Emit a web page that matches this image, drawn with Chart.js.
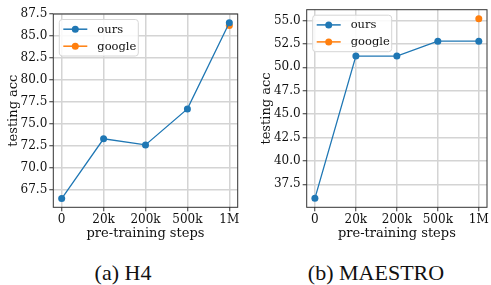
<!DOCTYPE html>
<html lang="en">
<head>
  <meta charset="UTF-8">
  <title>Pre-training steps vs testing acc</title>
  <style>
    body {
      margin: 0;
      background: #fff;
    }

    .wrap {
      position: relative;
      width: 491px;
      height: 285px;
      overflow: hidden;
    }

    canvas {
      position: absolute;
      top: 0;
    }

    .caption {
      position: absolute;
      top: 262px;
      font-family: "Liberation Serif", "Times New Roman", serif;
      font-size: 22px;
      line-height: 22px;
      color: #111;
      white-space: nowrap;
      transform: translateX(-50%);
    }
  </style>
  <script src="https://cdn.jsdelivr.net/npm/chart.js"></script>
</head>
<body>
  <div class="wrap">
    <canvas id="h4Chart" width="245" height="250" style="left:0"></canvas>
    <canvas id="maestroChart" width="246" height="250" style="left:245px"></canvas>
    <div class="caption" style="left:123px">(a) H4</div>
    <div class="caption" style="left:376px">(b) MAESTRO</div>
  </div>

  <script>
    // x categories shared by both panels
    const steps = ['0', '20k', '200k', '500k', '1M'];

    // H4 panel
    const h4Ours = [66.5, 73.3, 72.6, 76.7, 86.5];
    const h4Google = [null, null, null, null, 86.2];

    // MAESTRO panel
    const maestroOurs = [36.0, 51.2, 51.2, 52.8, 52.8];
    const maestroGoogle = [null, null, null, null, 55.2];

    const blue = '#1f77b4';
    const orange = '#ff7f0e';
    const serif = 'DejaVu Serif';

    // turn a value list into {x, y} points on the step index
    function toPoints(values) {
      return values.map((v, i) => ({ x: i, y: v })).filter(p => p.y !== null);
    }

    // box around the whole plot area, like matplotlib spines
    const framePlugin = {
      id: 'frame',
      afterDraw(chart) {
        const { ctx, chartArea: a } = chart;
        ctx.save();
        ctx.strokeStyle = '#333';
        ctx.lineWidth = 1;
        ctx.strokeRect(a.left, a.top, a.right - a.left, a.bottom - a.top);
        ctx.restore();
      }
    };

    // legend drawn inside the plot, upper left
    const innerLegend = {
      id: 'innerLegend',
      afterDraw(chart) {
        const { ctx, chartArea: a } = chart;
        const x = a.left + 6, y = a.top + 5.5, w = 79, h = 36.5, r = 3;
        ctx.save();
        ctx.beginPath();
        ctx.roundRect(x, y, w, h, r);
        ctx.fillStyle = 'rgba(255,255,255,0.85)';
        ctx.fill();
        ctx.strokeStyle = '#d6d6d6';
        ctx.lineWidth = 1;
        ctx.stroke();

        chart.data.datasets.forEach((ds, i) => {
          const cy = y + 9.7 + i * 17;
          ctx.strokeStyle = ds.borderColor;
          ctx.lineWidth = 1.5;
          ctx.beginPath();
          ctx.moveTo(x + 4, cy);
          ctx.lineTo(x + 28, cy);
          ctx.stroke();
          ctx.fillStyle = ds.backgroundColor;
          ctx.beginPath();
          ctx.arc(x + 16, cy, 3.5, 0, Math.PI * 2);
          ctx.fill();
          ctx.fillStyle = '#111';
          ctx.font = '11.5px "' + serif + '"';
          ctx.textBaseline = 'middle';
          ctx.fillText(ds.label, x + 38, cy + 0.5);
        });
        ctx.restore();
      }
    };

    function makeChart(id, ours, google, yMin, yMax, pad, yWidth, titleGap) {
      const ctx = document.getElementById(id).getContext('2d');
      return new Chart(ctx, {
        type: 'line',
        data: {
          datasets: [
            {
              label: 'ours',
              data: toPoints(ours),
              borderColor: blue,
              backgroundColor: blue,
              borderWidth: 1.3,
              pointRadius: 3.5,
              pointBorderWidth: 0,
              tension: 0
            },
            {
              label: 'google',
              data: toPoints(google),
              borderColor: orange,
              backgroundColor: orange,
              borderWidth: 1.3,
              pointRadius: 3.5,
              pointBorderWidth: 0,
              showLine: false
            }
          ]
        },
        options: {
          responsive: false,
          animation: false,
          devicePixelRatio: 1,
          layout: { padding: pad },
          plugins: {
            legend: { display: false },
            tooltip: { enabled: false }
          },
          scales: {
            x: {
              type: 'linear',
              min: -0.2,
              max: 4.2,
              afterBuildTicks: scale => {
                scale.ticks = steps.map((s, i) => ({ value: i }));
              },
              afterFit: scale => { scale.height = 250 - 207.3; },
              grid: { color: '#d4d4d4', lineWidth: 1.5, tickColor: '#333', tickLength: 4, tickWidth: 1 },
              border: { display: false },
              ticks: {
                padding: 1,
                color: '#111',
                font: { family: serif, size: 12 },
                callback: v => steps[v]
              },
              title: {
                display: true,
                text: 'pre-training steps',
                color: '#111',
                font: { family: serif, size: 13 },
                padding: { top: 0, bottom: 9 }
              }
            },
            y: {
              min: yMin,
              max: yMax,
              afterBuildTicks: scale => {
                const list = [];
                for (let v = Math.ceil(yMin / 2.5) * 2.5; v <= yMax + 1e-9; v += 2.5) list.push({ value: v });
                scale.ticks = list;
              },
              afterFit: scale => { scale.width = yWidth; },
              grid: { color: '#d4d4d4', lineWidth: 1.5, tickColor: '#333', tickLength: 4, tickWidth: 1 },
              border: { display: false },
              ticks: {
                padding: 2,
                color: '#111',
                font: { family: serif, size: 12 },
                callback: v => v.toFixed(1)
              },
              title: {
                display: true,
                text: 'testing acc',
                color: '#111',
                font: { family: serif, size: 13 },
                padding: { top: titleGap, bottom: 0 }
              }
            }
          }
        },
        plugins: [framePlugin, innerLegend]
      });
    }

    makeChart('h4Chart', h4Ours, h4Google, 65.5, 87.5,
      { top: 14, right: 7.3, left: 0, bottom: 0 }, 53.3, 6);
    makeChart('maestroChart', maestroOurs, maestroGoogle, 35.04, 56.16,
      { top: 9.7, right: 0, left: 0, bottom: 0 }, 61.7, 14);
  </script>
</body>
</html>
